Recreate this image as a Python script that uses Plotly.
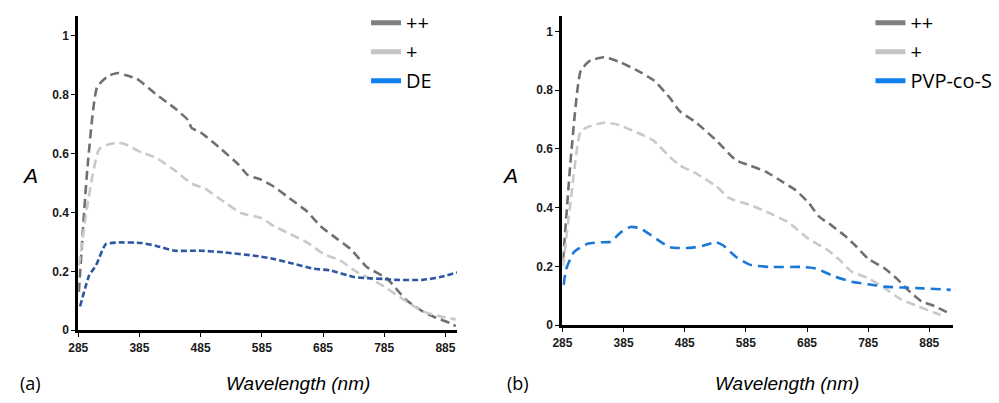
import plotly.graph_objects as go

# ---------------- data: panel (a) ----------------
a_pp_x = [286, 300, 316, 335, 351, 362, 381, 411, 443, 465, 470, 486, 519, 546, 562, 584, 605, 627, 659, 681, 708, 730, 757, 789, 805, 821, 848, 870, 892, 902]
a_pp_y = [0.13, 0.55, 0.826, 0.864, 0.873, 0.866, 0.853, 0.803, 0.753, 0.712, 0.687, 0.67, 0.614, 0.564, 0.527, 0.511, 0.487, 0.453, 0.403, 0.353, 0.31, 0.276, 0.214, 0.177, 0.14, 0.103, 0.064, 0.042, 0.025, 0.014]
a_p_x = [286, 302, 319, 335, 351, 362, 389, 411, 443, 470, 492, 519, 551, 584, 605, 632, 659, 686, 713, 740, 767, 789, 805, 821, 848, 875, 902]
a_p_y = [0.22, 0.45, 0.614, 0.631, 0.636, 0.631, 0.603, 0.587, 0.542, 0.498, 0.481, 0.442, 0.398, 0.381, 0.353, 0.326, 0.298, 0.259, 0.237, 0.198, 0.17, 0.143, 0.12, 0.098, 0.064, 0.048, 0.037]
a_de_x = [288, 303, 314, 330, 351, 389, 411, 443, 486, 524, 573, 605, 632, 670, 697, 735, 757, 784, 805, 848, 875, 904]
a_de_y = [0.081, 0.187, 0.22, 0.292, 0.298, 0.296, 0.287, 0.27, 0.27, 0.264, 0.253, 0.242, 0.228, 0.209, 0.203, 0.181, 0.177, 0.174, 0.171, 0.171, 0.18, 0.196]

# ---------------- data: panel (b) ----------------
b_pp_x = [286, 300, 315, 331, 353, 380, 407, 434, 461, 477, 504, 537, 569, 591, 618, 645, 666, 688, 704, 726, 747, 764, 785, 812, 834, 850, 872, 893, 920]
b_pp_y = [0.22, 0.6, 0.867, 0.901, 0.912, 0.895, 0.867, 0.834, 0.773, 0.728, 0.689, 0.628, 0.561, 0.544, 0.522, 0.488, 0.46, 0.416, 0.371, 0.338, 0.304, 0.271, 0.226, 0.193, 0.154, 0.12, 0.081, 0.065, 0.037]
b_p_x = [286, 300, 315, 331, 353, 375, 407, 434, 461, 477, 504, 537, 558, 591, 623, 655, 688, 720, 742, 758, 785, 812, 839, 866, 893, 910]
b_p_y = [0.2, 0.45, 0.661, 0.678, 0.689, 0.683, 0.656, 0.628, 0.572, 0.544, 0.516, 0.472, 0.432, 0.41, 0.382, 0.349, 0.293, 0.254, 0.215, 0.182, 0.16, 0.126, 0.087, 0.065, 0.042, 0.031]
b_pvp_x = [287, 291, 304, 326, 348, 364, 380, 396, 412, 439, 461, 494, 515, 537, 548, 569, 591, 623, 677, 699, 731, 758, 785, 812, 839, 866, 920]
b_pvp_y = [0.137, 0.19, 0.249, 0.277, 0.282, 0.284, 0.315, 0.334, 0.33, 0.293, 0.265, 0.263, 0.27, 0.282, 0.271, 0.232, 0.206, 0.198, 0.198, 0.193, 0.165, 0.148, 0.139, 0.131, 0.128, 0.126, 0.12]

x_ticks = [285, 385, 485, 585, 685, 785, 885]
y_ticks = [0, 0.2, 0.4, 0.6, 0.8, 1]
y_tick_labels = ["0", "0.2", "0.4", "0.6", "0.8", "1"]

names_a = ["++", "+", "DE"]
names_b = ["++", "+", "PVP-co-S"]

C_PP, C_P = "#707070", "#c9c9c9"
C_DE, C_PVP = "#2d56a3", "#1a78d6"
L_PP, L_P, L_BLUE = "#7f7f7f", "#c4c4c4", "#1080f0"

fig = go.Figure()

def add_line(x, y, color, dash, xa, ya, width=2.6):
    fig.add_trace(go.Scatter(x=x, y=y, mode="lines", xaxis=xa, yaxis=ya, showlegend=False,
                             line=dict(color=color, width=width, dash=dash, shape="spline", smoothing=0.5),
                             hoverinfo="skip"))

add_line(a_pp_x, a_pp_y, C_PP, "9px,5px", "x", "y")
add_line(a_p_x, a_p_y, C_P, "9px,5px", "x", "y")
add_line(a_de_x, a_de_y, C_DE, "6px,3px", "x", "y")
add_line(b_pp_x, b_pp_y, C_PP, "9px,5px", "x2", "y2")
add_line(b_p_x, b_p_y, C_P, "9px,5px", "x2", "y2")
add_line(b_pvp_x, b_pvp_y, C_PVP, "10px,6px", "x2", "y2")

# legend entries (solid swatches, as in the reference)
for nm, col in zip(names_a, [L_PP, L_P, L_BLUE]):
    fig.add_trace(go.Scatter(x=[None], y=[None], mode="lines", name=nm, legend="legend",
                             legendgroup="a" + nm, xaxis="x", yaxis="y",
                             line=dict(color=col, width=5)))
for nm, col in zip(names_b, [L_PP, L_P, L_BLUE]):
    fig.add_trace(go.Scatter(x=[None], y=[None], mode="lines", name=nm, legend="legend2",
                             legendgroup="b" + nm, xaxis="x2", yaxis="y2",
                             line=dict(color=col, width=5)))

tickfont = dict(family="Liberation Sans, Arial", size=12, color="#1a1a1a", weight="bold")
axis_common = dict(showline=True, linecolor="black", linewidth=3, showgrid=False, zeroline=False,
                   ticks="outside", ticklen=4, tickwidth=1, tickcolor="black", tickfont=tickfont)

legfont = dict(family="Open Sans, Noto Sans", size=20, color="black")
fig.update_layout(
    width=999, height=403, margin=dict(l=0, r=0, t=0, b=0),
    paper_bgcolor="white", plot_bgcolor="white",
    xaxis=dict(domain=[0.069, 0.452], range=[285, 904], tickvals=x_ticks, anchor="y", **axis_common),
    yaxis=dict(domain=[0.166, 0.96], range=[0, 1.067], tickvals=y_ticks, ticktext=y_tick_labels,
               anchor="x", **axis_common),
    xaxis2=dict(domain=[0.5586, 0.953], range=[285, 923], tickvals=x_ticks, anchor="y2", **axis_common),
    yaxis2=dict(domain=[0.179, 0.96], range=[0, 1.053], tickvals=y_ticks, ticktext=y_tick_labels,
                anchor="x2", **axis_common),
    legend=dict(x=0.360, y=0.992, xanchor="left", yanchor="top", font=legfont, bgcolor="rgba(0,0,0,0)",
                itemwidth=30, tracegroupgap=0),
    legend2=dict(x=0.870, y=0.992, xanchor="left", yanchor="top", font=legfont, bgcolor="rgba(0,0,0,0)",
                 itemwidth=30, tracegroupgap=0),
)

ann_font_it = dict(family="Liberation Sans, Arial", size=21, color="black")
lab_font = dict(family="Open Sans, Noto Sans", size=18, color="black")
for xp, txt in [(0.020, "<i>A</i>"), (0.506, "<i>A</i>")]:
    fig.add_annotation(x=xp, y=(403 - 179) / 403, xref="paper", yref="paper", text=txt,
                       showarrow=False, font=ann_font_it, xanchor="center", yanchor="middle")
for xp in [0.291, 0.786]:
    fig.add_annotation(x=xp, y=(403 - 390) / 403, xref="paper", yref="paper", text="<i>Wavelength (nm)</i>",
                       showarrow=False, font=dict(family="Liberation Sans, Arial", size=19, color="black"),
                       xanchor="center", yanchor="middle")
for xp, txt in [(0.008, "(a)"), (0.5, "(b)")]:
    fig.add_annotation(x=xp, y=(403 - 390) / 403, xref="paper", yref="paper", text=txt,
                       showarrow=False, font=lab_font, xanchor="left", yanchor="middle")

fig.write_html("out.html", config={"displayModeBar": False},
               post_script="document.body.style.margin='0';document.body.style.overflow='hidden';")
